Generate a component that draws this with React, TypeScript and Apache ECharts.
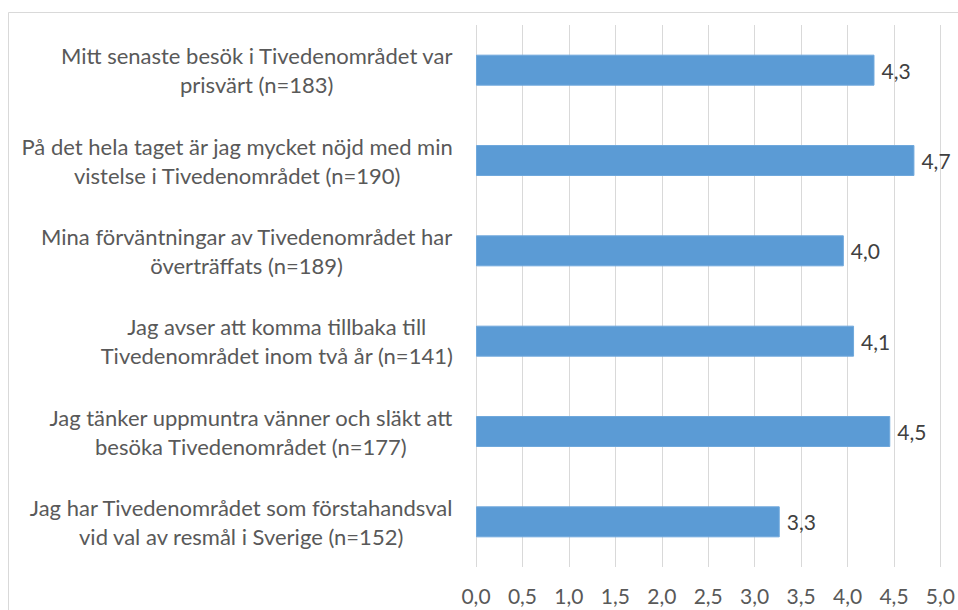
import React, { useEffect, useRef } from "react";
import * as echarts from "echarts";

const categories: string[] = [
  "Mitt senaste besök i Tivedenområdet var\nprisvärt (n=183)",
  "På det hela taget är jag mycket nöjd med min\nvistelse i Tivedenområdet (n=190)",
  "Mina förväntningar av Tivedenområdet har\növerträffats (n=189)",
  "Jag avser att komma tillbaka till\nTivedenområdet inom två år (n=141)",
  "Jag tänker uppmuntra vänner och släkt att\nbesöka Tivedenområdet (n=177)",
  "Jag har Tivedenområdet som förstahandsval\nvid val av resmål i Sverige (n=152)",
];
const values: number[] = [4.29, 4.72, 3.96, 4.07, 4.46, 3.27];
const axisMin = 0;
const axisMax = 5;
const axisStep = 0.5;

const FONT = "Lato";
const FS_CAT = 22;
const FS_NUM = 21;

const fmt = (v: number) => v.toFixed(1).replace(".", ",");

export default function App() {
  const ref = useRef<HTMLDivElement>(null);
  useEffect(() => {
    document.body.style.margin = "0";
    document.body.style.overflow = "hidden";
    const chart = echarts.init(ref.current!, null, { renderer: "svg" });
    chart.setOption({
      animation: false,
      backgroundColor: "#ffffff",
      textStyle: { fontFamily: FONT },
      grid: { left: 476, right: 15, top: 25, bottom: 43, containLabel: false },
      graphic: [
        {
          type: "rect",
          silent: true,
          z: -10,
          shape: { x: 8.5, y: 12.5, width: 1400, height: 1400 },
          style: { fill: "none", stroke: "#d9d9d9", lineWidth: 1 },
        },
      ],
      xAxis: {
        type: "value",
        min: axisMin,
        max: axisMax,
        interval: axisStep,
        axisLine: { show: false },
        axisTick: { show: false },
        splitLine: { show: true, lineStyle: { color: "#d9d9d9", width: 1 } },
        axisLabel: {
          formatter: (v: number) => fmt(v),
          fontSize: FS_NUM,
          lineHeight: 18,
          color: "#595959",
          fontFamily: FONT,
          margin: 19,
        },
      },
      yAxis: {
        type: "category",
        data: categories,
        inverse: true,
        axisLine: { show: false },
        axisTick: { show: false },
        splitLine: { show: false },
        axisLabel: {
          margin: 23,
          align: "right",
          formatter: (v: string) =>
            v
              .split("\n")
              .map((l) => `{c|${l}}`)
              .join("\n"),
          rich: {
            c: {
              align: "center",
              fontSize: FS_CAT,
              lineHeight: 29,
              color: "#595959",
              fontFamily: FONT,
            },
          },
        },
      },
      series: [
        {
          type: "bar",
          data: values,
          barWidth: 31,
          itemStyle: { color: "#5b9bd5", borderColor: "#6fa8dc", borderWidth: 1 },
          label: {
            show: true,
            position: "right",
            distance: 7,
            formatter: (p: any) => fmt(p.value),
            fontSize: FS_NUM,
            color: "#404040",
            fontFamily: FONT,
          },
        },
      ],
    });
    return () => chart.dispose();
  }, []);
  return <div ref={ref} style={{ width: 958, height: 610 }} />;
}
